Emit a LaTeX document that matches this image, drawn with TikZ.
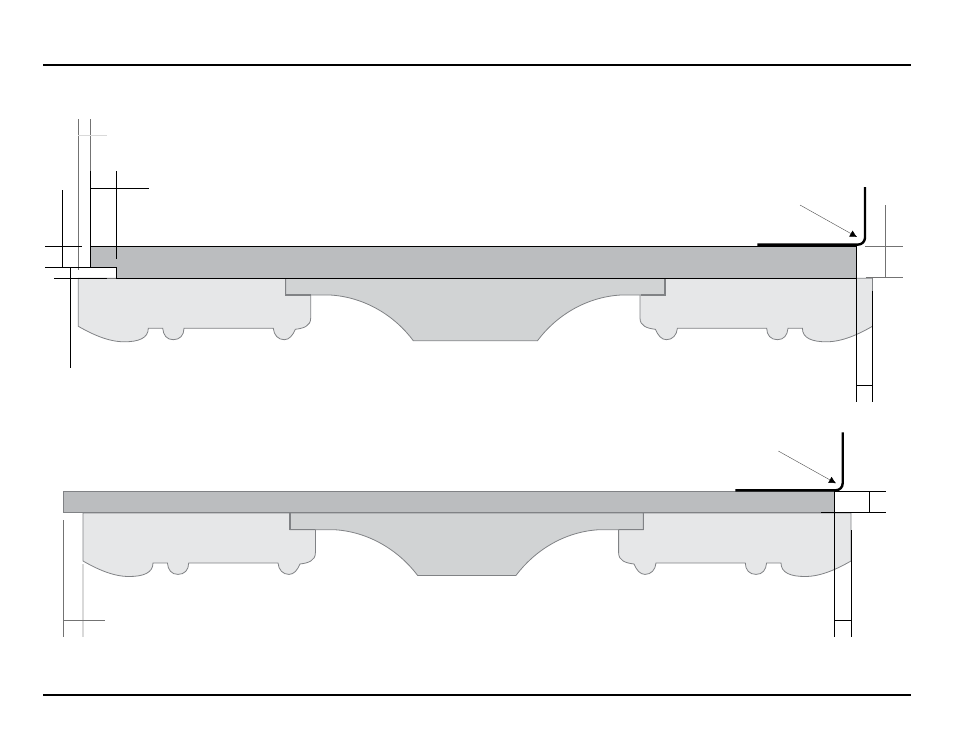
\documentclass[tikz,border=0pt]{standalone}
\usetikzlibrary{arrows.meta}
\definecolor{slabgray}{HTML}{BBBDBF}
\definecolor{cabgray}{HTML}{E6E7E8}
\definecolor{archgray}{HTML}{D1D3D4}
\definecolor{edgegray}{HTML}{808285}
\newcommand{\cabinetshape}{
    (0,0) -- (0,48) .. controls (14,56) and (30,63.5) .. (46,63.5)
    .. controls (60,63.5) and (70,60) .. (70,50) -- (84.4,50)
    .. controls (85,57) and (88.5,61.4) .. (95,61.4) .. controls (101.5,61.4) and (105.7,57) .. (105.7,50)
    -- (195,50) .. controls (195.6,57) and (200,61.4) .. (206,61.4) .. controls (211,61.4) and (214.5,57) .. (217,51)
    .. controls (225,50) and (232.4,48) .. (232.4,39.7) -- (232.4,16.7) -- (232.4,0) -- cycle
}
\begin{document}
\begin{tikzpicture}[x=1pt,y=-1pt,
    , dim/.style = {draw=black,line width=1pt}
    , faint/.style = {draw=black!55,line width=0.8pt}
    , pale/.style = {draw=black!15,line width=1.2pt}
    , cabinet/.style = {fill=cabgray,draw=edgegray,line width=0.8pt}
    , arch/.style = {fill=archgray,draw=edgegray,line width=0.8pt}
    , tab/.style = {draw=edgegray,line width=1.3pt}
    , flashing/.style = {draw=black,line width=2.4pt,rounded corners=7}
    , leader/.style = {draw=black!70,line width=0.4pt,-{Latex[black,length=7pt,width=7pt]}}
]
\useasboundingbox (0,0) rectangle (954,737);
\draw[black,line width=2pt] (43,64.5) -- (911,64.5);
\draw[black,line width=2pt] (43,695) -- (911,695);
% upper section
\begin{scope}[shift={(78.3,278.3)}]
    \draw[cabinet] \cabinetshape;
\end{scope}
\begin{scope}[shift={(872.4,278.3)},xscale=-1]
    \draw[cabinet] \cabinetshape;
\end{scope}
\draw[arch] (285.7,278.3) -- (285.7,295) -- (330,295) .. controls (365,297) and (395,316) .. (413.3,340.7)
    -- (537.5,340.7) .. controls (555.8,316) and (585.8,297) .. (620.8,295) -- (665,295) -- (665,278.3) -- cycle;
\draw[tab] (285.7,278.3) -- (285.7,295) -- (311,295);
\draw[tab] (665,278.3) -- (665,295) -- (640.7,295);
\draw[draw=black,fill=slabgray,line width=0.9pt] (90.3,246.3) -- (856.3,246.3) -- (856.3,278.3) -- (116.3,278.3) -- (116.3,267.3) -- (90.3,267.3) -- cycle;
\draw[faint] (78.3,119.3) -- (78.3,270);
\draw[faint] (90.3,119.3) -- (90.3,171);
\draw[pale] (78.3,135.7) -- (106.7,135.7);
\draw[dim] (90.3,171) -- (90.3,267.3);
\draw[dim] (116.3,171) -- (116.3,258.7);
\draw[dim] (90.3,188.3) -- (149,188.3);
\draw[dim] (62.3,190) -- (62.3,267.3);
\draw[dim] (45,246.3) -- (82,246.3);
\draw[dim] (45,267.3) -- (116.3,267.3);
\draw[dim] (70.3,267.3) -- (70.3,367.7);
\draw[dim] (54,278.3) -- (106.7,278.3);
\draw[faint] (106.7,278.3) -- (116.3,278.3);
\draw[flashing] (757.3,244.6) -- (865,244.6) -- (865,187);
\draw[leader] (800,205) -- (857,237);
\draw[faint] (865,246.3) -- (902.7,246.3);
\draw[faint] (865.7,277.7) -- (902.7,277.7);
\draw[faint] (885.3,205) -- (885.3,277.7);
\draw[dim] (856.3,278.3) -- (856.3,401.7);
\draw[dim] (872.3,291) -- (872.3,401.7);
\draw[dim] (856.3,385.3) -- (872.3,385.3);
% lower section
\begin{scope}[shift={(83,513)}]
    \draw[cabinet] \cabinetshape;
\end{scope}
\begin{scope}[shift={(851,513)},xscale=-1]
    \draw[cabinet] \cabinetshape;
\end{scope}
\draw[arch] (290,513) -- (290,529.7) -- (334.3,529.7) .. controls (369,531.7) and (399,550.7) .. (417.6,575.4)
    -- (516,575.4) .. controls (534.6,550.7) and (564,531.7) .. (599,529.7) -- (643.3,529.7) -- (643.3,513) -- cycle;
\draw[tab] (290,513) -- (290,529.7) -- (315.4,529.7);
\draw[tab] (643.3,513) -- (643.3,529.7) -- (619,529.7);
\draw[draw=edgegray,fill=slabgray,line width=0.9pt] (63.3,491.3) rectangle (834.3,512.6);
\draw[faint] (63.3,520) -- (63.3,636.7);
\draw[pale] (83,564) -- (83,636.7);
\draw[faint] (63.3,620.3) -- (105.3,620.3);
\draw[flashing] (735.3,490.3) -- (842.7,490.3) -- (842.7,432.3);
\draw[leader] (778.3,451) -- (836,483.3);
\draw[dim] (834.3,491.3) -- (886,491.3);
\draw[dim] (821,512.3) -- (886,512.3);
\draw[dim] (869.3,491.3) -- (869.3,512.3);
\draw[dim] (834.3,491.3) -- (834.3,636.7);
\draw[dim] (851,530) -- (851,636.7);
\draw[dim] (834.3,620.3) -- (851,620.3);
\end{tikzpicture}
\end{document}
